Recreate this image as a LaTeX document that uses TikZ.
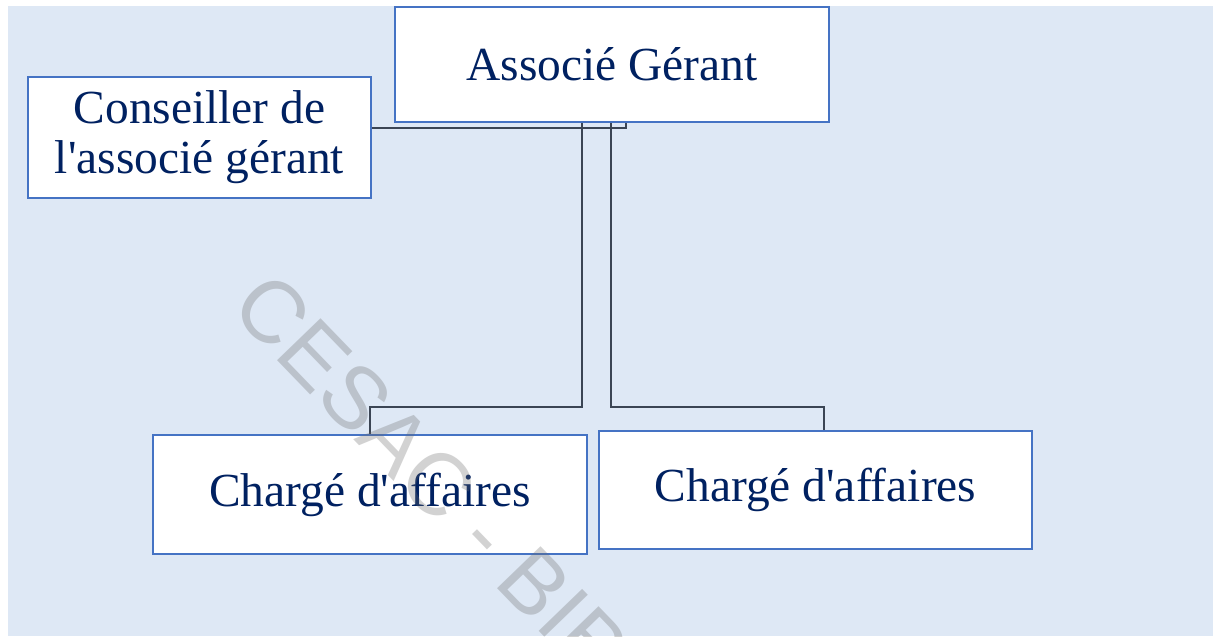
\documentclass[tikz,border=0pt]{standalone}
\usepackage{fontspec}
\setmainfont{Liberation Serif}
\newfontfamily\stampfont{Liberation Sans}
\usepackage{tikz}
\usetikzlibrary{positioning}
\definecolor{paleblue}{rgb}{0.87, 0.91, 0.96}
\definecolor{boxblue}{rgb}{0.27, 0.45, 0.77}
\definecolor{navytext}{rgb}{0.0, 0.13, 0.38}
\definecolor{slateline}{rgb}{0.23, 0.27, 0.33}
\tikzset{
  posbox/.style={draw=boxblue, line width=1.4pt, fill=white, text=navytext,
    font=\fontsize{27}{28.5}\selectfont, align=center, inner sep=0pt},
  link/.style={draw=slateline, line width=1.1pt},
}

\begin{document}
\begin{tikzpicture}
  \useasboundingbox (0,0) rectangle (24.26,12.72);
  \fill [paleblue] (0.16,0) rectangle (24.26,12.6);

  \node [posbox, minimum width=8.68cm, minimum height=2.3cm] (assoc) at (12.24,11.43) {Associé Gérant};
  \node [posbox, minimum width=6.86cm, minimum height=2.42cm] (cons) at (3.99,9.97) {Conseiller de\\l\textquotesingle associé gérant};
  \node [posbox, minimum width=8.68cm, minimum height=2.38cm] (chA) at (7.40,2.83) {Chargé d\textquotesingle affaires};
  \node [posbox, minimum width=8.66cm, minimum height=2.36cm] (chB) at (16.31,2.92) {Chargé d\textquotesingle affaires};

  \coordinate (c1) at (12.52,10.16);
  \coordinate (k1) at (11.64,4.58);
  \coordinate (k2) at (12.22,4.58);
  \coordinate (k3) at (16.48,4.58);

  \draw [link] (assoc.south -| c1) -- (c1) -- (c1 -| cons.east);
  \draw [link] (assoc.south -| k1) -- (k1) -| (chA.north);
  \draw [link] (assoc.south -| k2) -- (k2) -- (k3) -- (k3 |- chB.north);

  % watermark
  \begin{scope}
    \clip (0,0) rectangle (24.26,12.72);
    \node [anchor=west, rotate=-46, inner sep=0pt, text=black!58, opacity=0.3,
      font=\stampfont\fontsize{50}{50}\selectfont] (stamp) at (5.0,6.95) {CESAC - BIB};
  \end{scope}
\end{tikzpicture}
\end{document}
